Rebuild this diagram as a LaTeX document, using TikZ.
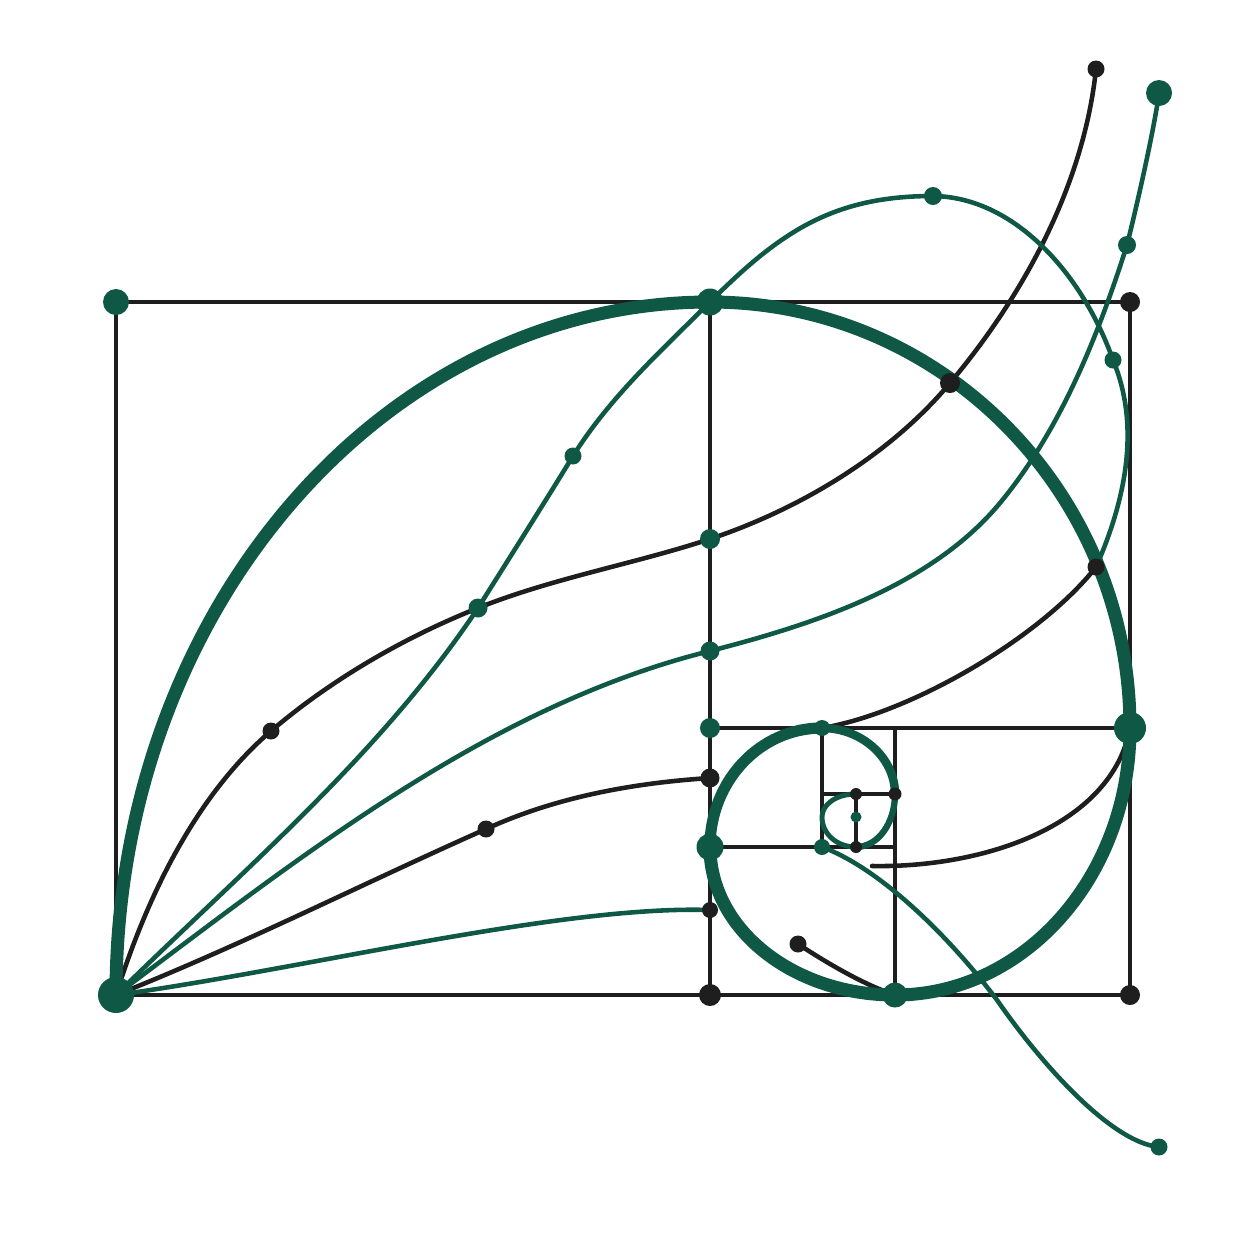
\documentclass[tikz,border=0pt]{standalone}
\usepackage{xcolor}
\usepackage{tikz}
\usetikzlibrary{backgrounds}
\definecolor{leaf}{RGB}{16,88,70}
\definecolor{ink}{RGB}{30,30,30}

\begin{document}
\begin{tikzpicture}[x=0.1mm,y=-0.1mm,
	gdot/.style={circle, fill=leaf, inner sep=0pt, minimum size=#1}, gdot/.default=1.8mm,
	bdot/.style={circle, fill=ink, inner sep=0pt, minimum size=#1}, bdot/.default=1.7mm,
	frame/.style={draw=ink, line width=1.2pt},
	wire/.style={line width=1.3pt, line cap=round},
	spiral/.style={draw=leaf, line width=#1, line cap=round}]
		\useasboundingbox (0,0) rectangle (1254,1254);
		\node[gdot=2.6mm] (tl) at (116,302) {};
		\node[gdot=3.6mm] (bl) at (116,995) {};
		\node[gdot=2.7mm] (tm) at (710,302) {};
		\node[bdot=2mm] (tr) at (1130,302) {};
		\node[bdot=2.2mm] (bm) at (710,995) {};
		\node[bdot=2mm] (br) at (1130,995) {};
		\node[gdot=3.2mm] (mr) at (1130,728) {};
		\node[gdot=2mm] (ml) at (710,728) {};
		\node[gdot=2.5mm] (bs) at (895,995) {};
		\node[gdot=2.7mm] (sl) at (710,847) {};
		\node[gdot=1.6mm] (st) at (822,728) {};
		\node[gdot=1.6mm] (sb) at (822,847) {};
		\node[bdot=1.3mm] (sr) at (895,794) {};
		\node[bdot=1.2mm] (ct) at (856,794) {};
		\node[gdot=1.1mm] (cm) at (856,817) {};
		\node[bdot=1.2mm] (cb) at (856,847) {};
		\node[bdot] (k1) at (271,731) {};
		\node[gdot=1.9mm] (x1) at (478,608) {};
		\node[gdot=1.7mm] (g1) at (573,456) {};
		\node[gdot=2mm] (k2) at (710,539) {};
		\node[bdot=2mm] (k3) at (950,383) {};
		\node[bdot] (k4) at (1096,69) {};
		\node[gdot=1.9mm] (g2) at (710,651) {};
		\node[gdot] (g3) at (1127,245) {};
		\node[gdot=2.6mm] (g4) at (1159,93) {};
		\node[gdot] (l1) at (933,196) {};
		\node[gdot=1.7mm] (l2) at (1113,360) {};
		\node[bdot] (j1) at (1096,567) {};
		\node[bdot] (m1) at (486,829) {};
		\node[bdot=1.9mm] (m2) at (710,778) {};
		\node[bdot=1.6mm] (n1) at (710,910) {};
		\node[bdot] (h1) at (798,944) {};
		\node[gdot=1.7mm] (t1) at (1159,1147) {};
		\coordinate (e1) at (872,866);
		\begin{scope}[on background layer]
		\draw[frame] (tl.center) rectangle (br.center);
		\draw[frame] (tm.center) -- (bm.center);
		\draw[frame] (ml.center) -- (mr.center);
		\draw[frame] (st -| sr) -- (bs.center);
		\draw[frame] (sl.center) -- (sb -| sr);
		\draw[frame] (st.center) -- (sb.center);
		\draw[frame] (sr -| st) -- (sr.center);
		\draw[frame] (ct.center) -- (cb.center);
		\draw[wire, ink] (bl.center) .. controls (146,899) and (195,796) .. (k1.center) .. controls (332,679) and (405,637) .. (x1.center) .. controls (553,578) and (634,564) .. (k2.center) .. controls (800,509) and (890,455) .. (k3.center) .. controls (1024,295) and (1084,184) .. (k4.center);
		\draw[wire, ink] (bl.center) .. controls (242,945) and (362,884) .. (m1.center) .. controls (556,797) and (633,783) .. (m2.center);
		\draw[wire, leaf] (bl.center) .. controls (300,970) and (560,905) .. (n1.center);
		\draw[wire, leaf] (bl.center) .. controls (299,858) and (488,706) .. (g2.center) .. controls (815,624) and (931,586) .. (1000,503) .. controls (1061,429) and (1098,336) .. (g3.center) .. controls (1137,205) and (1154,130) .. (g4.center);
		\draw[wire, leaf] (bl.center) .. controls (242,871) and (380,755) .. (x1.center) .. controls (510,557) and (543,505) .. (g1.center) .. controls (610,397) and (661,351) .. (tm.center) .. controls (780,232) and (833,196) .. (l1.center) .. controls (1015,197) and (1083,275) .. (l2.center) .. controls (1138,420) and (1130,490) .. (j1.center);
		\draw[wire, ink] (st.center) .. controls (912,713) and (1041,637) .. (j1.center);
		\draw[wire, ink] (e1) .. controls (985,868) and (1112,825) .. (mr.center);
		\draw[wire, leaf] (sb.center) .. controls (882,869) and (952,940) .. (997,1000) .. controls (1040,1062) and (1110,1142) .. (t1.center);
		\draw[wire, ink] (h1.center) .. controls (830,965) and (865,985) .. (bs.center);
		\draw[spiral=3.7pt] (bl.center) .. controls (116,612) and (382,302) .. (tm.center) .. controls (942,302) and (1130,493) .. (mr.center) .. controls (1130,876) and (1025,995) .. (bs.center) .. controls (793,995) and (710,929) .. (sl.center);
		\draw[spiral=3.2pt] (sl.center) .. controls (710,781) and (760,728) .. (st.center);
		\draw[spiral=2.4pt] (st.center) .. controls (862,728) and (895,758) .. (sr.center);
		\draw[spiral=1.8pt] (sr.center) .. controls (895,823) and (878,847) .. (cb.center);
		\draw[spiral=1.4pt] (cb.center) .. controls (837,847) and (822,834) .. (822,817) .. controls (822,804) and (837,794) .. (ct.center);
		\end{scope}
	\end{tikzpicture}
\end{document}
